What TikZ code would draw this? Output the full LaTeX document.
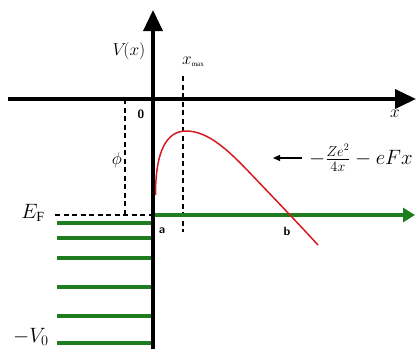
\documentclass[tikz,border=0pt]{standalone}
\usepackage{fontspec}
\setmainfont{Liberation Serif}
\usetikzlibrary{arrows.meta}
\definecolor{lvlgreen}{RGB}{30,125,30}
\definecolor{curvered}{RGB}{215,25,35}
\begin{document}
\begin{tikzpicture}[x=1pt,y=-1pt,
  axis/.style={line width=3.6pt,-{Triangle[width=19pt,length=21pt]}},
  level/.style={lvlgreen,line width=3.6pt},
  guide/.style={line width=1.4pt,dash pattern=on 5pt off 3.5pt},
  lab/.style={font=\sffamily\bfseries\fontsize{12}{12}\selectfont,inner sep=1pt},
  lbl/.style={inner sep=1pt}]
\useasboundingbox (0,0) rectangle (417,349);
% coordinates
\coordinate (xl) at (8,99);
\coordinate (xr) at (416,99);
\coordinate (yb) at (153,349);
\coordinate (yt) at (153,10);
\coordinate (ef0) at (55,215);
\coordinate (efa) at (153,215);
\coordinate (efr) at (415,215);
\coordinate (phT) at (125,99);
\coordinate (phB) at (125,215);
\coordinate (xmT) at (183,76);
\coordinate (xmB) at (183,232);
% guides
\draw[guide] (phT) -- (phB);
\draw[guide] (xmT) -- (xmB);
\draw[guide] (ef0) -- (efa);
% levels
\foreach \yy/\nm in {223/l1,238/l2,258/l3,287/l4,316/l5,343/l6}{
  \coordinate (\nm a) at (57,\yy);
  \coordinate (\nm b) at (151,\yy);
  \draw[level] (\nm a) -- (\nm b);
}
% green arrow
\draw[lvlgreen,line width=3.6pt,-{Triangle[width=14pt,length=12pt]}] (efa) -- (efr);
% curve
\draw[curvered,line width=1.5pt] (155.5,195) .. controls (155.5,150) and (167,131) .. (186,131)
  .. controls (208,131) and (228,150) .. (250,173)
  .. controls (270,194) and (295,220) .. (318,245);
% axes
\draw[axis] (xl) -- (xr);
\draw[axis] (yb) -- (yt);
% labels
\node[lbl,font=\fontsize{16}{16}\selectfont] (vx) at (129,51) {$V\!(x)$};
\node[lbl] (xmax) at (193,62) {\fontsize{18}{18}\selectfont$x$\raisebox{-2pt}{\fontsize{7}{7}\selectfont max}};
\node[lab] (zero) at (141,114) {0};
\node[lbl,font=\fontsize{19}{19}\selectfont] (phi) at (117,160) {$\phi$};
\node[lbl,font=\fontsize{20}{20}\selectfont] (ef) at (33,213) {$E_{\mathrm{F}}$};
\node[lbl,font=\fontsize{20}{20}\selectfont] (v0) at (31,337) {$-V_0$};
\node[lab] (a) at (162,231) {a};
\node[lab] (b) at (287,231) {b};
\node[lbl,font=\fontsize{18}{18}\selectfont] (xlab) at (395,114) {$x$};
\node[lbl,anchor=west,font=\fontsize{20}{20}\selectfont] (form) at (308,158) {$-\frac{Ze^2}{4x}-eFx$};
\coordinate (arS) at (302,158);
\coordinate (arE) at (273,158);
\draw[line width=1.2pt,-{Triangle[width=6pt,length=7pt]}] (arS) -- (arE);
\end{tikzpicture}
\end{document}
